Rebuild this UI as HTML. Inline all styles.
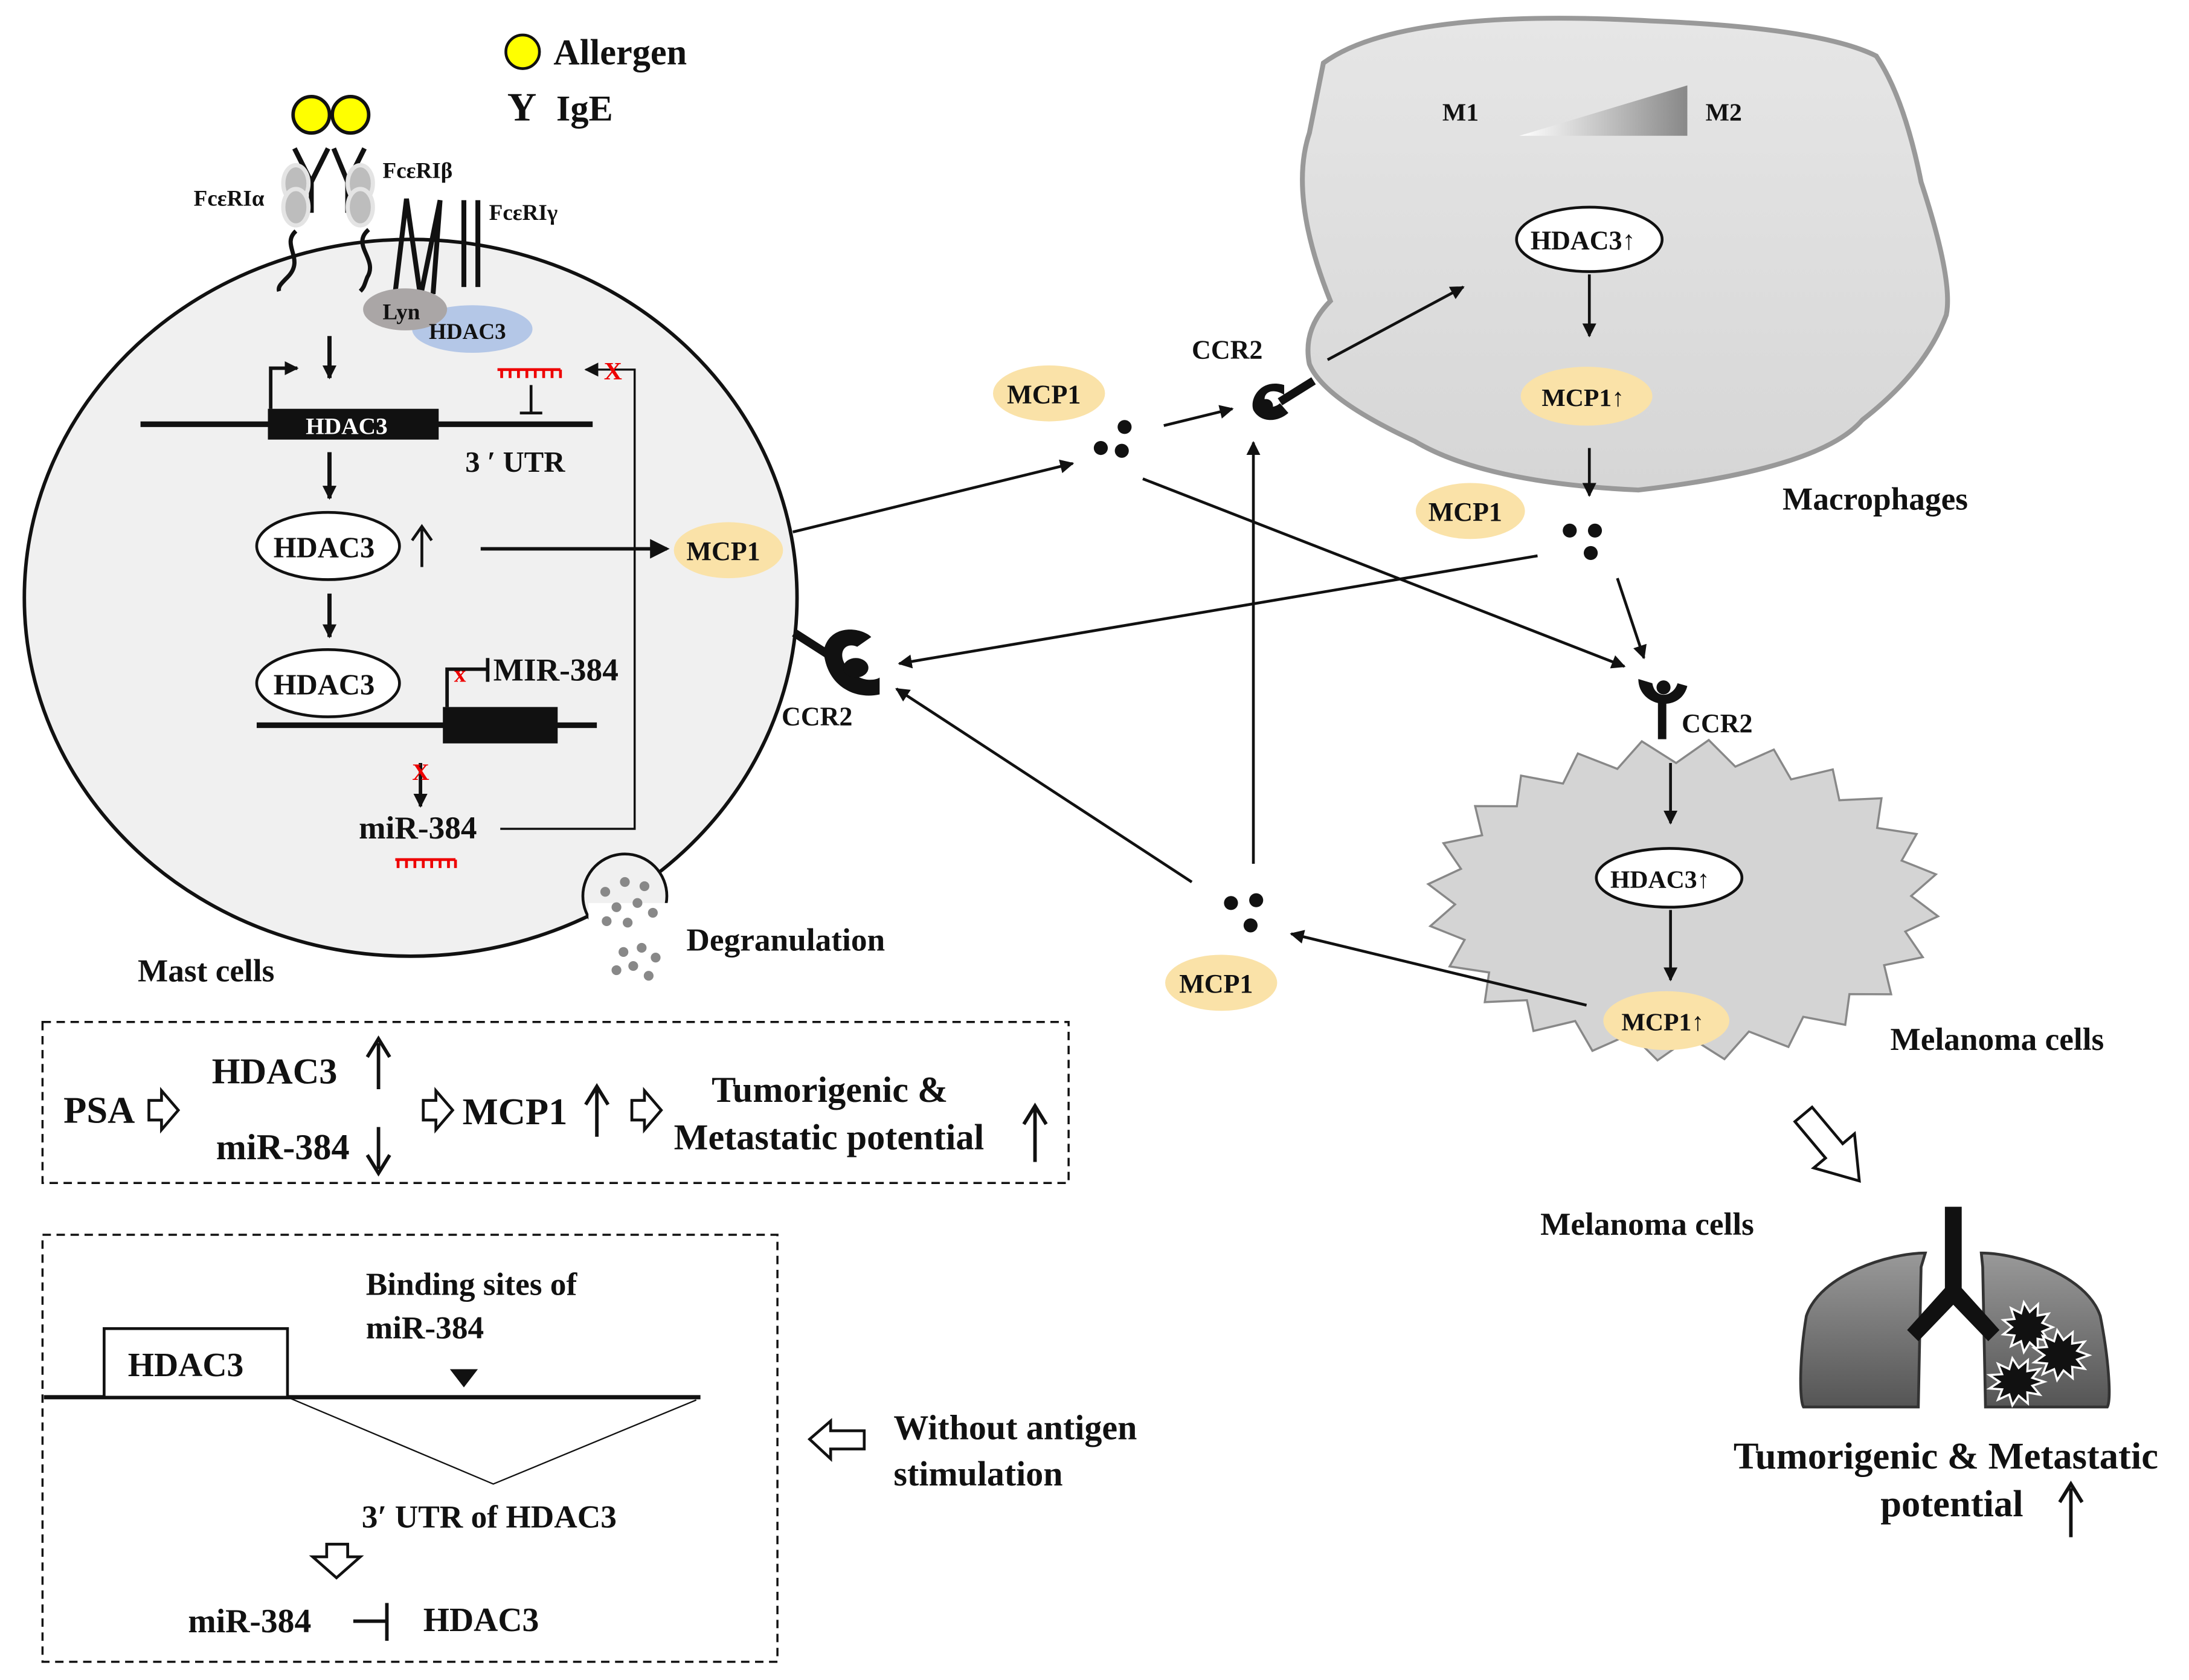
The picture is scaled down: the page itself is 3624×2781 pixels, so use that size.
<!DOCTYPE html>
<html><head><meta charset="utf-8"><style>
html,body{margin:0;padding:0;background:#fff}
svg{display:block}
text{font-family:"Liberation Serif",serif;font-weight:bold;fill:#111}
</style></head><body>
<svg width="3624" height="2781" viewBox="0 0 1563 1200" xmlns="http://www.w3.org/2000/svg">
<defs>
<marker id="a" markerWidth="10" markerHeight="10" refX="9" refY="5" orient="auto" markerUnits="userSpaceOnUse"><path d="M0,0 L10,5 L0,10 Z" fill="#111"/></marker>
<marker id="b" markerWidth="14" markerHeight="14" refX="12" refY="7" orient="auto" markerUnits="userSpaceOnUse"><path d="M0,0 L14,7 L0,14 Z" fill="#111"/></marker>
<linearGradient id="g" x1="0" x2="1"><stop offset="0" stop-color="#fff"/><stop offset="1" stop-color="#888"/></linearGradient>
<linearGradient id="mg" x1="0" y1="0" x2="0" y2="1"><stop offset="0" stop-color="#e6e6e6"/><stop offset="1" stop-color="#d6d6d6"/></linearGradient>
<linearGradient id="lg" x1="0" y1="0" x2="0" y2="1"><stop offset="0" stop-color="#999"/><stop offset="1" stop-color="#555"/></linearGradient>
</defs>

<!-- Legend -->
<circle cx="373" cy="37" r="12" fill="#ff0" stroke="#111" stroke-width="2"/>
<text x="395" y="46" font-size="26">Allergen</text>
<text x="362" y="86" font-size="29">Y</text>
<text x="397" y="86" font-size="26">IgE</text>

<!-- Mast cell -->
<ellipse cx="293" cy="427" rx="276" ry="256" fill="#f0f0f0" stroke="#111" stroke-width="2.5"/>
<circle cx="446" cy="640" r="30" fill="#f0f0f0" stroke="#111" stroke-width="2"/>
<rect x="420" y="645" width="60" height="45" fill="#fff"/>
<g fill="#888">
<circle cx="432" cy="637" r="3.5"/><circle cx="446" cy="630" r="3.5"/><circle cx="460" cy="633" r="3.5"/><circle cx="440" cy="648" r="3.5"/><circle cx="455" cy="645" r="3.5"/><circle cx="466" cy="652" r="3.5"/><circle cx="448" cy="659" r="3.5"/><circle cx="433" cy="658" r="3.5"/>
<circle cx="445" cy="680" r="3.5"/><circle cx="458" cy="677" r="3.5"/><circle cx="468" cy="684" r="3.5"/><circle cx="452" cy="690" r="3.5"/><circle cx="440" cy="693" r="3.5"/><circle cx="463" cy="697" r="3.5"/>
</g>
<text x="490" y="679" font-size="23">Degranulation</text>
<text x="98" y="701" font-size="23">Mast cells</text>

<!-- receptors -->
<g stroke="#111" stroke-width="3.5" fill="none">
<path d="M210,106 L222,130 L234,106 M222,130 L222,152"/>
<path d="M238,106 L248,130 L260,106 M248,130 L248,152"/>
</g>
<circle cx="222" cy="82" r="13" fill="#ff0" stroke="#111" stroke-width="2.5"/>
<circle cx="250" cy="82" r="13" fill="#ff0" stroke="#111" stroke-width="2.5"/>
<g fill="#bdbdbd" stroke="#e4e4e4" stroke-width="3">
<ellipse cx="211" cy="131" rx="9" ry="13"/><ellipse cx="211" cy="148" rx="9" ry="13"/>
<ellipse cx="257" cy="131" rx="9" ry="13"/><ellipse cx="257" cy="148" rx="9" ry="13"/>
</g>
<g stroke="#111" stroke-width="3" fill="none">
<path d="M211,165 C200,175 218,185 205,198 C200,203 198,205 199,208"/>
<path d="M263,164 C250,175 270,185 262,198 C260,203 260,205 257,208"/>
</g>
<g stroke="#111" stroke-width="3.5" fill="none">
<path d="M280,225 L290,142 L300,212 L314,143 L309,210"/>
<line x1="331" y1="143" x2="331" y2="205"/><line x1="341" y1="143" x2="341" y2="205"/>
</g>
<text x="138" y="147" font-size="16">FcεRIα</text>
<text x="273" y="127" font-size="16">FcεRIβ</text>
<text x="349" y="157" font-size="16">FcεRIγ</text>
<ellipse cx="337" cy="235" rx="43" ry="17" fill="#b4c7e7"/>
<ellipse cx="289" cy="221" rx="30" ry="15" fill="#aaa6a6"/>
<text x="273" y="228" font-size="16">Lyn</text>
<text x="306" y="242" font-size="16">HDAC3</text>

<!-- gene 1 -->
<line x1="235" y1="240" x2="235" y2="270" stroke="#111" stroke-width="3" marker-end="url(#a)"/>
<line x1="100" y1="303" x2="423" y2="303" stroke="#111" stroke-width="4"/>
<rect x="191" y="292" width="122" height="22" fill="#111"/>
<text x="218" y="310" font-size="17" style="fill:#fff">HDAC3</text>
<path d="M193,292 L193,263 L212,263" stroke="#111" stroke-width="2.5" fill="none" marker-end="url(#a)"/>
<g stroke="#e00" stroke-width="2"><line x1="355" y1="264" x2="400" y2="264"/>
<path d="M358,264v6M364,264v6M370,264v6M376,264v6M382,264v6M388,264v6M394,264v6M400,264v6"/></g>
<path d="M379,275 L379,295 M371,295 L387,295" stroke="#111" stroke-width="2"/>
<text x="332" y="337" font-size="21">3 ′ UTR</text>
<path d="M357,592 L453,592 L453,264 L418,264" stroke="#111" stroke-width="1.5" fill="none" marker-end="url(#a)"/>
<text x="431" y="271" font-size="18" style="fill:#e00">X</text>

<line x1="235" y1="323" x2="235" y2="356" stroke="#111" stroke-width="3" marker-end="url(#a)"/>
<ellipse cx="234" cy="390" rx="51" ry="24" fill="#fff" stroke="#111" stroke-width="2"/>
<text x="195" y="398" font-size="21">HDAC3</text>
<path d="M301,405 L301,378 M294,386 L301,376 L308,386" stroke="#111" stroke-width="2" fill="none"/>
<line x1="343" y1="392" x2="476" y2="392" stroke="#111" stroke-width="2.5" marker-end="url(#b)"/>
<ellipse cx="520" cy="393" rx="39" ry="20" fill="#fae2a8"/>
<text x="490" y="400" font-size="19">MCP1</text>

<line x1="235" y1="424" x2="235" y2="455" stroke="#111" stroke-width="3" marker-end="url(#a)"/>
<ellipse cx="234" cy="488" rx="51" ry="24" fill="#fff" stroke="#111" stroke-width="2"/>
<text x="195" y="496" font-size="21">HDAC3</text>
<line x1="183" y1="518" x2="426" y2="518" stroke="#111" stroke-width="4"/>
<rect x="316" y="505" width="82" height="26" fill="#111"/>
<path d="M319,505 L319,478 L348,478 M348,470 L348,487" stroke="#111" stroke-width="2.5" fill="none"/>
<text x="324" y="487" font-size="17" style="fill:#e00">x</text>
<text x="352" y="486" font-size="23">MIR-384</text>
<line x1="300" y1="545" x2="300" y2="576" stroke="#111" stroke-width="2.5" marker-end="url(#a)"/>
<text x="294" y="557" font-size="17" style="fill:#e00">X</text>
<text x="256" y="599" font-size="23">miR-384</text>
<g stroke="#e00" stroke-width="2"><line x1="282" y1="614" x2="325" y2="614"/>
<path d="M284,614v6M290,614v6M296,614v6M302,614v6M308,614v6M314,614v6M320,614v6M325,614v6"/></g>

<!-- CCR2 on mast -->
<line x1="567" y1="452" x2="592" y2="468" stroke="#111" stroke-width="6"/>
<path d="M588,465 C592,445 615,448 622,455 L612,462 C603,458 597,467 605,477 C614,488 625,486 628,484 L628,496 C610,500 590,490 588,465 Z" fill="#111"/>
<ellipse cx="611" cy="477" rx="9" ry="7" fill="#111"/>
<text x="558" y="518" font-size="19">CCR2</text>

<!-- Macrophage -->
<path d="M945,45 Q1000,5 1180,15 Q1300,20 1340,40 Q1360,70 1372,130 Q1395,200 1390,225 Q1375,265 1330,300 Q1300,335 1170,350 Q1060,345 1010,315 Q945,285 935,260 Q930,235 950,215 Q920,140 935,95 Z" fill="url(#mg)" stroke="#999" stroke-width="3.5"/>
<text x="1030" y="86" font-size="18">M1</text>
<polygon points="1085,97 1205,61 1205,97" fill="url(#g)"/>
<text x="1218" y="86" font-size="18">M2</text>
<ellipse cx="1135" cy="171" rx="52" ry="23" fill="#fff" stroke="#111" stroke-width="2"/>
<text x="1093" y="178" font-size="19">HDAC3↑</text>
<line x1="1135" y1="196" x2="1135" y2="240" stroke="#111" stroke-width="2" marker-end="url(#a)"/>
<ellipse cx="1133" cy="283" rx="47" ry="21" fill="#fae2a8"/>
<text x="1101" y="290" font-size="18">MCP1↑</text>
<line x1="1135" y1="320" x2="1135" y2="354" stroke="#111" stroke-width="2" marker-end="url(#a)"/>
<text x="1273" y="364" font-size="23">Macrophages</text>
<line x1="948" y1="257" x2="1045" y2="205" stroke="#111" stroke-width="2" marker-end="url(#a)"/>
<!-- CCR2 macrophage -->
<line x1="914" y1="287" x2="938" y2="272" stroke="#111" stroke-width="6"/>
<path d="M917,275 C900,270 892,285 895,293 C900,302 912,302 920,295 L914,288 C908,293 903,290 903,285 C903,280 909,277 917,282 Z" fill="#111"/>
<circle cx="904" cy="290" r="5" fill="#111"/>
<text x="851" y="256" font-size="19">CCR2</text>

<!-- MCP1 secreted top -->
<ellipse cx="749" cy="281" rx="40" ry="20" fill="#fae2a8"/>
<text x="719" y="288" font-size="19">MCP1</text>
<circle cx="786" cy="320" r="5" fill="#111"/><circle cx="801" cy="322" r="5" fill="#111"/><circle cx="803" cy="305" r="5" fill="#111"/>
<line x1="566" y1="380" x2="766" y2="331" stroke="#111" stroke-width="2" marker-end="url(#a)"/>
<line x1="831" y1="304" x2="880" y2="292" stroke="#111" stroke-width="2" marker-end="url(#a)"/>
<line x1="816" y1="342" x2="1160" y2="476" stroke="#111" stroke-width="2" marker-end="url(#a)"/>

<ellipse cx="1050" cy="365" rx="39" ry="20" fill="#fae2a8"/>
<text x="1020" y="372" font-size="19">MCP1</text>
<circle cx="1121" cy="379" r="5" fill="#111"/><circle cx="1139" cy="379" r="5" fill="#111"/><circle cx="1136" cy="395" r="5" fill="#111"/>
<line x1="1098" y1="397" x2="642" y2="474" stroke="#111" stroke-width="2" marker-end="url(#a)"/>
<line x1="1155" y1="413" x2="1174" y2="470" stroke="#111" stroke-width="2" marker-end="url(#a)"/>

<!-- Melanoma -->
<polygon id="star" fill="#d4d4d4" stroke="#888" stroke-width="1.5" points=""/>
<line x1="1187" y1="500" x2="1187" y2="528" stroke="#111" stroke-width="6"/>
<path d="M1170,485 C1170,505 1200,510 1205,490 L1198,488 C1195,498 1182,500 1180,488 Z" fill="#111"/>
<circle cx="1188" cy="491" r="5" fill="#111"/>
<text x="1201" y="523" font-size="19">CCR2</text>
<line x1="1193" y1="545" x2="1193" y2="588" stroke="#111" stroke-width="2" marker-end="url(#a)"/>
<ellipse cx="1192" cy="627" rx="52" ry="21" fill="#fff" stroke="#111" stroke-width="2"/>
<text x="1150" y="634" font-size="18">HDAC3↑</text>
<line x1="1193" y1="650" x2="1193" y2="700" stroke="#111" stroke-width="2" marker-end="url(#a)"/>
<ellipse cx="1190" cy="729" rx="45" ry="21" fill="#fae2a8"/>
<text x="1158" y="736" font-size="18">MCP1↑</text>
<text x="1350" y="750" font-size="23">Melanoma cells</text>
<line x1="1133" y1="718" x2="922" y2="667" stroke="#111" stroke-width="2" marker-end="url(#a)"/>

<ellipse cx="872" cy="702" rx="40" ry="20" fill="#fae2a8"/>
<text x="842" y="709" font-size="19">MCP1</text>
<circle cx="879" cy="645" r="5" fill="#111"/><circle cx="897" cy="643" r="5" fill="#111"/><circle cx="893" cy="661" r="5" fill="#111"/>
<line x1="851" y1="630" x2="640" y2="492" stroke="#111" stroke-width="2" marker-end="url(#a)"/>
<line x1="895" y1="617" x2="895" y2="316" stroke="#111" stroke-width="2" marker-end="url(#a)"/>

<!-- hollow arrow & lungs -->
<polygon transform="translate(1288,796) rotate(50)" points="0,-8 34,-8 34,-19 62,0 34,19 34,8 0,8" fill="#fff" stroke="#111" stroke-width="2"/>
<text x="1100" y="882" font-size="23">Melanoma cells</text>
<path d="M1375,895 C1350,895 1300,910 1290,940 C1285,970 1285,1000 1288,1005 L1370,1005 L1372,905 Z" fill="url(#lg)" stroke="#333" stroke-width="2"/>
<path d="M1415,895 C1440,895 1490,910 1500,940 C1506,970 1508,1000 1505,1005 L1418,1005 L1416,905 Z" fill="url(#lg)" stroke="#333" stroke-width="2"/>
<path d="M1389,862 L1401,862 L1401,920 L1428,950 L1420,958 L1395,932 L1370,958 L1362,950 L1389,920 Z" fill="#111"/>
<polygon id="s1" fill="#111" stroke="#fff" stroke-width="1.5" points=""/>
<polygon id="s2" fill="#111" stroke="#fff" stroke-width="1.5" points=""/>
<polygon id="s3" fill="#111" stroke="#fff" stroke-width="1.5" points=""/>
<text x="1238" y="1049" font-size="27">Tumorigenic &amp; Metastatic</text>
<text x="1343" y="1083" font-size="27">potential</text>
<path d="M1479,1098 L1479,1063 M1471,1073 L1479,1060 L1487,1073" stroke="#111" stroke-width="2.5" fill="none"/>

<!-- Dashed box 1 -->
<rect x="30" y="730" width="733" height="115" fill="none" stroke="#111" stroke-width="1.5" stroke-dasharray="6,4"/>
<text x="45" y="802" font-size="27">PSA</text>
<polygon points="106,786 115,786 115,779 127,793 115,807 115,800 106,800" fill="#fff" stroke="#111" stroke-width="2"/>
<text x="151" y="774" font-size="26">HDAC3</text>
<path d="M270,778 L270,745 M262,755 L270,742 L278,755" stroke="#111" stroke-width="2.5" fill="none"/>
<text x="154" y="828" font-size="26">miR-384</text>
<path d="M270,805 L270,835 M262,825 L270,838 L278,825" stroke="#111" stroke-width="2.5" fill="none"/>
<polygon points="302,786 311,786 311,779 323,793 311,807 311,800 302,800" fill="#fff" stroke="#111" stroke-width="2"/>
<text x="330" y="803" font-size="27">MCP1</text>
<path d="M426,812 L426,778 M418,789 L426,776 L434,789" stroke="#111" stroke-width="2.5" fill="none"/>
<polygon points="451,786 460,786 460,779 472,793 460,807 460,800 451,800" fill="#fff" stroke="#111" stroke-width="2"/>
<text x="508" y="787" font-size="26">Tumorigenic &amp;</text>
<text x="481" y="821" font-size="26">Metastatic potential</text>
<path d="M739,830 L739,792 M731,803 L739,790 L747,803" stroke="#111" stroke-width="2.5" fill="none"/>

<!-- Dashed box 2 -->
<rect x="30" y="882" width="525" height="305" fill="none" stroke="#111" stroke-width="1.5" stroke-dasharray="6,4"/>
<text x="261" y="925" font-size="23">Binding sites of</text>
<text x="261" y="956" font-size="23">miR-384</text>
<polygon points="321,978 341,978 331,991" fill="#111"/>
<line x1="31" y1="998" x2="500" y2="998" stroke="#111" stroke-width="3"/>
<rect x="74" y="949" width="131" height="49" fill="#fff" stroke="#111" stroke-width="2"/>
<text x="91" y="983" font-size="24">HDAC3</text>
<path d="M205,998 L352,1060 L497,1000" stroke="#111" stroke-width="1" fill="none"/>
<text x="258" y="1091" font-size="23">3′ UTR of HDAC3</text>
<polygon points="233,1103 248,1103 248,1112 257,1112 240,1127 223,1112 233,1112" fill="#fff" stroke="#111" stroke-width="2"/>
<text x="134" y="1166" font-size="24">miR-384</text>
<path d="M252,1158 L275,1158 M276,1145 L276,1172" stroke="#111" stroke-width="2.5"/>
<text x="302" y="1165" font-size="24">HDAC3</text>
<polygon points="578,1028 593,1015 593,1022 617,1022 617,1035 593,1035 593,1042" fill="#fff" stroke="#111" stroke-width="2"/>
<text x="638" y="1028" font-size="25">Without antigen</text>
<text x="638" y="1061" font-size="25">stimulation</text>
</svg>
<script>
function star(id,cx,cy,ro,ri,ryo,ryi,n,rot){var p=[];for(var i=0;i<2*n;i++){var t=Math.PI*i/n+(rot||0);var o=i%2==0;p.push((cx+Math.cos(t)*(o?ro:ri)).toFixed(1)+","+(cy+Math.sin(t)*(o?ryo:ryi)).toFixed(1));}document.getElementById(id).setAttribute("points",p.join(" "));}
star("star",1202,643,183,163,115,98,24,0.1);
star("s1",1448,948,18,11,18,11,11);
star("s2",1472,968,20,12,18,11,11);
star("s3",1440,987,20,12,17,10,11);
</script>
</body></html>
